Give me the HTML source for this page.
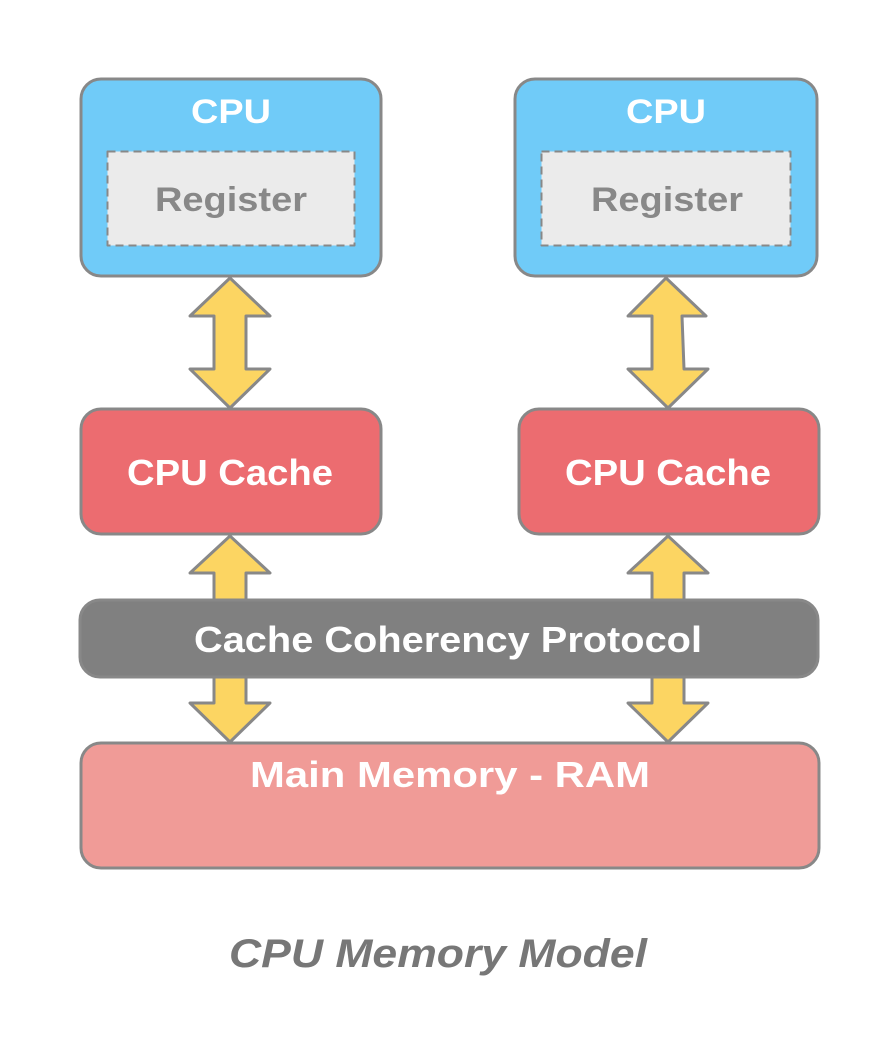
<!DOCTYPE html>
<html><head><meta charset="utf-8"><style>html,body{margin:0;padding:0;background:#fff}svg{display:block}</style></head>
<body>
<svg width="896" height="1058" viewBox="0 0 896 1058" xmlns="http://www.w3.org/2000/svg" font-family="Liberation Sans, DejaVu Sans, sans-serif" font-weight="bold">
<g stroke="#888" stroke-width="3" stroke-linejoin="round">
<rect x="81" y="79" width="300" height="197" rx="20" fill="#70cbf8"/>
<rect x="515" y="79" width="302" height="197" rx="20" fill="#70cbf8"/>
<rect x="107.5" y="151.5" width="247" height="94" fill="#ebebeb" stroke-dasharray="8 5" stroke-width="2"/>
<rect x="541.5" y="151.5" width="249" height="94" fill="#ebebeb" stroke-dasharray="8 5" stroke-width="2"/>
<path d="M230 278 L270 316 L246 316 L246 369 L270 369 L230 408 L190 369 L214 369 L214 316 L190 316 Z" fill="#fcd562"/>
<path d="M666 278 L706 316 L682 316 L684 369 L708 369 L668 408 L628 369 L652 369 L652 316 L628 316 Z" fill="#fcd562"/>
<rect x="81" y="409" width="300" height="125" rx="20" fill="#ec6c70"/>
<rect x="519" y="409" width="300" height="125" rx="20" fill="#ec6c70"/>
<path d="M230 536 L270 573 L246 573 L246 703 L270 703 L230 742 L190 703 L214 703 L214 573 L190 573 Z" fill="#fcd562"/>
<path d="M668 536 L708 573 L684 573 L684 703 L708 703 L668 742 L628 703 L652 703 L652 573 L628 573 Z" fill="#fcd562"/>
<rect x="80" y="600" width="738" height="77" rx="20" fill="#808080"/>
<rect x="81" y="743" width="738" height="125" rx="20" fill="#f09b97"/>
</g>
<g fill="#fff" text-anchor="middle" font-size="34">
<text x="231" y="123" textLength="80" lengthAdjust="spacingAndGlyphs">CPU</text>
<text x="666" y="123" textLength="80" lengthAdjust="spacingAndGlyphs">CPU</text>
<text x="230" y="485" font-size="36" textLength="206" lengthAdjust="spacingAndGlyphs">CPU Cache</text>
<text x="668" y="485" font-size="36" textLength="206" lengthAdjust="spacingAndGlyphs">CPU Cache</text>
<text x="448" y="652" font-size="36" textLength="508" lengthAdjust="spacingAndGlyphs">Cache Coherency Protocol</text>
<text x="450" y="787" font-size="36" textLength="400" lengthAdjust="spacingAndGlyphs">Main Memory - RAM</text>
</g>
<g fill="#888" text-anchor="middle" font-size="34">
<text x="231" y="211" textLength="152" lengthAdjust="spacingAndGlyphs">Register</text>
<text x="667" y="211" textLength="152" lengthAdjust="spacingAndGlyphs">Register</text>
</g>
<text x="438" y="967" fill="#777" font-size="40" font-style="italic" text-anchor="middle" textLength="418" lengthAdjust="spacingAndGlyphs">CPU Memory Model</text>
</svg>
</body></html>
